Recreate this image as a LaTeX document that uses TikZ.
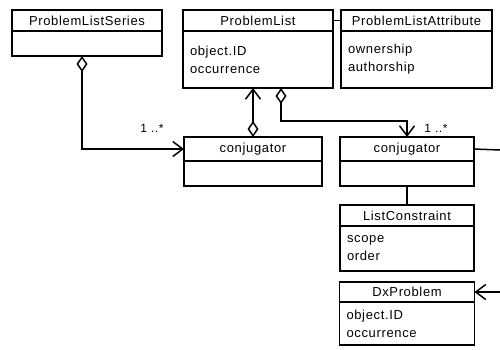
\documentclass[tikz,border=0pt]{standalone}
\usepackage{fontspec}
\newfontfamily\umlfont[LetterSpace=5]{Liberation Sans}
\usepackage{tikz}
\usetikzlibrary{positioning,arrows.meta}
\tikzset{
  classhead/.style={draw,line width=1.5pt,outer sep=0pt,anchor=north west,
    minimum width=#1,minimum height=21pt,inner sep=0pt,
    font=\umlfont\fontsize{13}{18}\selectfont},
  classbody/.style={draw,line width=1.5pt,outer sep=0pt,text width=#1,
    inner xsep=7pt,inner ysep=0pt,align=left,
    font=\umlfont\fontsize{13}{18}\selectfont},
  assoc/.style={draw,line width=1.5pt},
  mult/.style={font=\umlfont\fontsize{12}{14}\selectfont,inner sep=0pt}
}
\tikzstyle{line} = [assoc,{Diamond[open,length=16pt,width=11pt]}-{Straight Barb[length=10pt,width=15pt]}]

\begin{document}
\begin{tikzpicture}
  \useasboundingbox (0,0) rectangle (500pt,-349pt);
  % top row
  \node[classhead=150pt] (serieshead) at (12pt,-10pt) {ProblemListSeries};
  \node[classbody=136pt,minimum height=25pt] (seriesbody) [below=0pt of serieshead] {};
  \node[classhead=150pt] (plisthead) [right=21pt of serieshead] {ProblemList};
  \node[classbody=136pt,minimum height=57pt] (plistbody) [below=0pt of plisthead] {object.ID\\occurrence};
  \node[classhead=151pt] (attrhead) [right=8pt of plisthead] {ProblemListAttribute};
  \node[classbody=137pt,minimum height=57pt] (attrbody) [below=0pt of attrhead] {ownership\\authorship};
  \path[assoc] (plisthead) edge [-] (attrhead);
  % conjugators
  \node[classhead=138pt,minimum height=24pt] (conjahead) at (184pt,-137pt) {conjugator};
  \node[classbody=124pt,minimum height=25pt] (conjabody) [below=0pt of conjahead] {};
  \node[classhead=134pt,minimum height=24pt] (conjbhead) [right=18pt of conjahead] {conjugator};
  \node[classbody=120pt,minimum height=25pt] (conjbbody) [below=0pt of conjbhead] {};
  % right column
  \node[classhead=134pt] (constrhead) [below=19pt of conjbbody] {ListConstraint};
  \node[classbody=120pt,minimum height=45pt] (constrbody) [below=0pt of constrhead] {scope\\order};
  \node[classhead=135pt,minimum height=20pt] (dxhead) [below=11pt of constrbody] {DxProblem};
  \node[classbody=121pt,minimum height=43pt] (dxbody) [below=0pt of dxhead] {object.ID\\occurrence};
  % connectors
  \draw[line] ([xshift=-5pt]seriesbody.south) |- (conjahead.west);
  \node[mult] (multa) at (152pt,-128pt) {1 ..*};
  \draw[line] (conjahead.north) -- (conjahead.north |- plistbody.south);
  \draw[line] ([xshift=23pt]plistbody.south) -- ++(0,-33pt) -| (conjbhead.north);
  \node[mult] (multb) at (436pt,-128pt) {1 ..*};
  \path[assoc] (conjbbody) edge [-] (constrhead);
  \coordinate (offright) at (500pt,-150pt);
  \path[assoc] (conjbhead.east) edge [-] (offright);
  \coordinate (offdx) at (500pt,-292pt);
  \draw[assoc,-{Straight Barb[length=10pt,width=15pt]}] (offdx) -- (dxhead.east);
\end{tikzpicture}
\end{document}
